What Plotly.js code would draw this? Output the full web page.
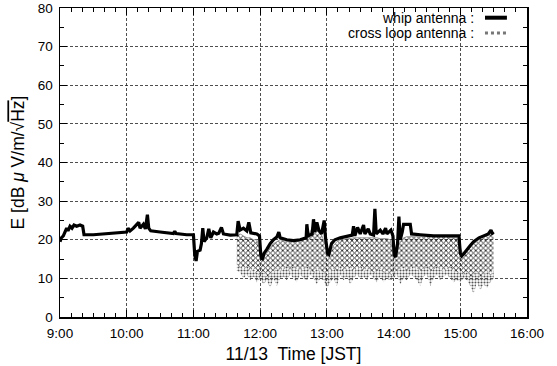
<!DOCTYPE html>
<html>
<head>
<meta charset="utf-8">
<script src="https://cdn.plot.ly/plotly-3.0.1.min.js"></script>
<style>html,body{margin:0;padding:0;background:#fff;}#chart{width:557px;height:366px;}</style>
</head>
<body>
<div id="chart"></div>
<script>
// Whip antenna (time in hours JST, E in dBuV/m/sqrtHz)
var whipTime = [9.00,9.02,9.05,9.08,9.10,9.12,9.15,9.18,9.21,9.25,9.30,9.34,9.36,9.50,9.70,9.80,9.90,10.00,10.02,10.05,10.10,10.15,10.18,10.20,10.25,10.28,10.31,10.33,10.36,10.50,10.70,10.72,10.74,10.90,11.00,11.02,11.04,11.06,11.10,11.12,11.14,11.16,11.20,11.23,11.26,11.30,11.35,11.38,11.42,11.45,11.55,11.65,11.67,11.70,11.75,11.80,11.83,11.86,11.95,11.99,12.01,12.03,12.06,12.10,12.15,12.20,12.25,12.28,12.30,12.40,12.50,12.60,12.65,12.69,12.70,12.72,12.78,12.80,12.82,12.85,12.88,12.92,12.96,12.98,13.01,13.03,13.07,13.12,13.20,13.30,13.38,13.40,13.42,13.46,13.50,13.55,13.57,13.62,13.65,13.70,13.72,13.74,13.80,13.84,13.88,13.90,13.96,13.99,14.01,14.03,14.06,14.08,14.10,14.13,14.15,14.25,14.27,14.40,14.60,14.80,14.98,15.00,15.02,15.05,15.10,15.15,15.20,15.28,15.35,15.42,15.46,15.48,15.50];
var whipE = [19.5,20.5,21,22,23,22.3,23.5,23,23.8,23.5,23.8,23.5,21.3,21.3,21.5,21.7,21.8,22,23,22.3,23,23.8,24.5,23,24,22.8,26.5,23,22.3,22,21.6,22.2,21.6,21.3,21.3,16,14.5,17,17.3,19,23,19.5,20.5,22.8,20.5,22,21.5,21.7,23.2,21.5,21.2,21.3,24.8,22.5,23,22.3,24.5,21.8,21.5,21,16,14.8,16.5,17.5,19,20,20.7,22,20.5,20,19.8,20,20.2,20.5,24,21,21.5,25.3,22,24.5,22.5,21.5,25,20.5,16.5,16.2,19,20,20.5,21,21.2,23.5,21,23.2,21.5,23.8,21.5,22.8,21.5,21.2,28,21.5,22.5,21.5,23,21.5,22.5,21,16,15.5,19,26,20,22,24,24,21.5,21.3,21,21,21,16.5,15.8,16.3,17.5,18.5,19.5,20.5,21,21.5,22.5,21.7,22];

// Cross loop antenna: sampled every 3 minutes from 11:39 to 15:30
var loopTime = [];
for (var i = 0; i < 78; i++) loopTime.push(11.65 + i * 0.05);
var loopUpper = [21,21.5,21,20.5,20.5,20,20, 17,15.5,16.5,18,19,19.5,20, 19.8,19.5,19.5,19.5,19.5,19.8,20,20.5,22,24,23,22,20, 18,16.5,18.5,19.5,20,20,20.3,20.3,20.5,20.5,20.5, 20.5,20.5,20.5,20.5,20.5,20.3,20.3,20.3,20, 16,17,19.5,20.5,20.8,20.8,20.8,20.8,20.8,20.8,20.8, 20.8,20.8,20.8,20.8,20.8,20.8,20.5,20.5,20.5, 18,15.8,17,18,19,19.5,20.5,21,21,21.5,21.5];
var loopDense = [13.5,13,12.5,13,12,12.5,11.5, 11,11.5,10.5,11,12,12.5,12, 12.5,13,12,13,12.5,12,12.5,13,12,11.5,12.5,12,11.5, 11,12,12.5,12,13,12,12.5,13,12,12.5,13, 12,12.5,12,11.5,12,12.5,11.5,12,11, 11.5,12,12.5,13,12,12.5,13,12.5,12,12.5,13, 12,12.5,13,12.5,12,12.5,13,12,11.5, 12,11,11.5,10.5,11,11.5,10.5,11,12,11,12];
var loopLow = [12,11.5,10,11,9.5,10.5,9, 10,8.5,9.5,7.5,10,8,10, 10.5,9.5,11,10,9,11,10,9.5,11,10,8.5,10,9.5, 7.5,9,10,8,11,9.5,10.5,8.5,10,11,10, 10.5,9.5,11,10,9,10.5,9,10,9.5, 10,11,8.5,10,9.5,11,10.5,9.5,8,10.5,11, 8,10,11,9.5,10.5,11,10,9,9.5, 9,10,9.5,8,6,9,7,8.5,7.5,9,10];

var xTickVals = [9,10,11,12,13,14,15,16];
var xTickText = ["9:00","10:00","11:00","12:00","13:00","14:00","15:00","16:00"];
var yTickVals = [0,10,20,30,40,50,60,70,80];

var font = "Liberation Sans, Arial, Helvetica, sans-serif";

var traces = [
  {x: loopTime, y: loopLow, mode: "lines", line: {width: 0, color: "rgba(0,0,0,0)"}, hoverinfo: "skip", showlegend: false},
  {x: loopTime, y: loopDense, mode: "lines", line: {width: 0, shape: "hvh", color: "rgba(0,0,0,0)"}, fill: "tonexty",
   fillcolor: "rgba(0,0,0,0)", fillpattern: {shape: ".", fgcolor: "#555", bgcolor: "rgba(255,255,255,0)", size: 3, solidity: 0.4}, showlegend: false},
  {x: loopTime, y: loopUpper, mode: "lines", line: {width: 0.8, color: "#888"}, fill: "tonexty",
   fillcolor: "rgba(0,0,0,0)", fillpattern: {shape: "x", fgcolor: "#222", bgcolor: "rgba(255,255,255,0)", size: 3.5, solidity: 0.45}, name: "cross loop antenna", showlegend: false},
  {x: whipTime, y: whipE, mode: "lines", line: {width: 3.2, color: "#000"}, name: "whip antenna", showlegend: false}
];

var axisCommon = {
  showline: true, linecolor: "#000", linewidth: 1.5, mirror: "ticks",
  ticks: "inside", ticklen: 7, tickcolor: "#000", tickwidth: 1,
  showgrid: true, gridcolor: "#222", gridwidth: 0.8, griddash: "3px,2px",
  zeroline: false, tickfont: {family: font, size: 13.5, color: "#000"}
};

var layout = {
  width: 557, height: 366,
  margin: {l: 60, r: 30, t: 8, b: 49},
  paper_bgcolor: "#fff", plot_bgcolor: "#fff",
  showlegend: false,
  xaxis: Object.assign({}, axisCommon, {
    range: [9, 16], tickvals: xTickVals, ticktext: xTickText, ticklabelstandoff: 3,
    minor: {ticks: "inside", ticklen: 4, dtick: 1/6, tick0: 9, tickcolor: "#000", showgrid: false},
    title: {text: "11/13  Time [JST]", font: {family: font, size: 17.5, color: "#000"}, standoff: 8}
  }),
  yaxis: Object.assign({}, axisCommon, {
    range: [0, 80], tickvals: yTickVals, ticklabelstandoff: 3,
    minor: {ticks: "inside", ticklen: 4, dtick: 5, tickcolor: "#000", showgrid: false},
    title: {text: "E [dB <i>μ</i> V/m/√<span style='text-decoration:overline'>Hz</span>]", font: {family: font, size: 17.5, color: "#000"}, standoff: 8}
  }),
  annotations: [
    {xref: "paper", yref: "paper", x: 0.8908, y: 0.9686, xanchor: "right", yanchor: "middle", showarrow: false,
     text: "whip antenna :", font: {family: font, size: 14, color: "#000"}},
    {xref: "paper", yref: "paper", x: 0.8908, y: 0.919, xanchor: "right", yanchor: "middle", showarrow: false,
     text: "cross loop antenna :", font: {family: font, size: 14, color: "#000"}}
  ],
  shapes: [
    {type: "line", xref: "paper", yref: "paper", x0: 0.910, x1: 0.957, y0: 0.9686, y1: 0.9686, line: {color: "#000", width: 4}},
    {type: "line", xref: "paper", yref: "paper", x0: 0.910, x1: 0.957, y0: 0.919, y1: 0.919, line: {color: "#777", width: 3, dash: "dot"}}
  ]
};

Plotly.newPlot("chart", traces, layout, {staticPlot: true, displayModeBar: false});
</script>
</body>
</html>
